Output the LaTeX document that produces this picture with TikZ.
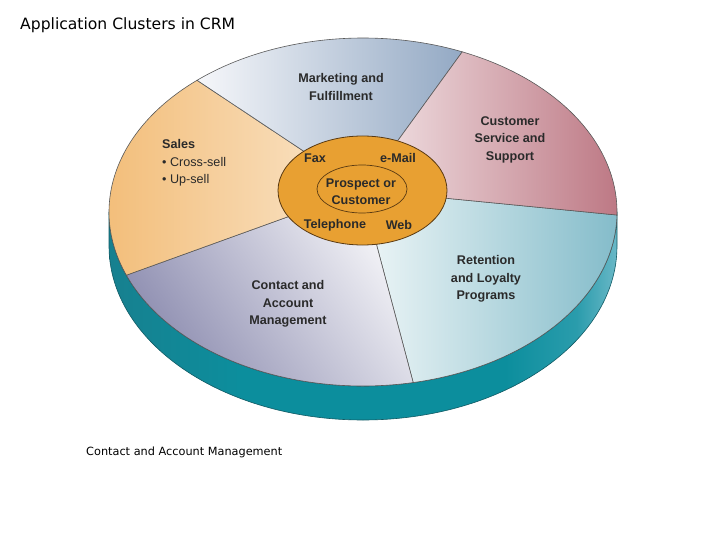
\documentclass[tikz,border=0pt]{standalone}
\usepackage{fontspec}
\setmainfont{Liberation Sans}
\newfontfamily\titlefont{DejaVu Sans}
\usetikzlibrary{shapes.geometric}
\definecolor{salesA}{HTML}{F2BB74}
\definecolor{salesB}{HTML}{FAE6CC}
\definecolor{mktA}{HTML}{F6F7FA}
\definecolor{mktB}{HTML}{93A9C4}
\definecolor{csA}{HTML}{F3E6E8}
\definecolor{csB}{HTML}{BD7884}
\definecolor{retA}{HTML}{EEF6F7}
\definecolor{retB}{HTML}{84BCCA}
\definecolor{conA}{HTML}{8A8AAE}
\definecolor{conB}{HTML}{F6F6F9}
\definecolor{hubC}{HTML}{E8A032}
\definecolor{hubL}{HTML}{5A3A12}
\definecolor{sideA}{HTML}{17808F}
\definecolor{sideM}{HTML}{0C8E9D}
\definecolor{sideC}{HTML}{2A9CAC}
\definecolor{sideB}{HTML}{6AB8C7}
\definecolor{txt}{HTML}{2A2A2A}
\pgfdeclarehorizontalshading{sideshade}{100bp}{color(0bp)=(sideA); color(25bp)=(sideA); color(38bp)=(sideM); color(64bp)=(sideM); color(71bp)=(sideC); color(75bp)=(sideB); color(100bp)=(sideB)}
\tikzset{
  seg/.style={draw=black!65, line width=0.6pt},
  sidepart/.style={draw=sideA!70!black, line width=0.6pt, shading=sideshade},
  lbl/.style={font=\fontsize{12.6}{17.5}\selectfont\bfseries, align=center, text=txt, inner sep=0pt},
  blt/.style={font=\fontsize{12.6}{17.5}\selectfont, align=left, text=txt, inner sep=0pt},
}
\begin{document}
\begin{tikzpicture}[x=1pt,y=-1pt]
\useasboundingbox (0,0) rectangle (720,540);
\fill[white] (0,0) rectangle (720,540);
\coordinate (e) at (363,212);
\coordinate (c) at (362,190);
% side of the disk
\shadedraw[sidepart] ([shift={(e)}]0:254 and 174) -- ++(0,34)
  arc[start angle=0,end angle=180,x radius=254,y radius=174]
  -- ([shift={(e)}]180:254 and 174)
  arc[start angle=180,end angle=0,x radius=254,y radius=174] -- cycle;
% wedges
\shadedraw[seg, left color=retA, right color=retB] (c) -- ([shift={(e)}]1:254 and 174)
  arc[start angle=1,end angle=78.6,x radius=254,y radius=174] -- cycle;
\shadedraw[seg, top color=conB, bottom color=conA, shading angle=-55] (c) -- ([shift={(e)}]78.6:254 and 174)
  arc[start angle=78.6,end angle=158.7,x radius=254,y radius=174] -- cycle;
\shadedraw[seg, left color=salesA, right color=salesB] (c) -- ([shift={(e)}]158.7:254 and 174)
  arc[start angle=158.7,end angle=229.2,x radius=254,y radius=174] -- cycle;
\shadedraw[seg, left color=mktA, right color=mktB] (c) -- ([shift={(e)}]229.2:254 and 174)
  arc[start angle=229.2,end angle=293,x radius=254,y radius=174] -- cycle;
\shadedraw[seg, left color=csA, right color=csB] (c) -- ([shift={(e)}]293:254 and 174)
  arc[start angle=293,end angle=361,x radius=254,y radius=174] -- cycle;
% hub
\node (hub) [ellipse, draw=hubL, line width=0.8pt, fill=hubC, minimum width=169pt, minimum height=109pt, inner sep=0pt] at (362.5,190.5) {};
\node (core) [ellipse, draw=hubL, line width=0.7pt, minimum width=90pt, minimum height=48pt, inner sep=0pt] at (362,189) {};
% hub texts
\node[lbl] (fax) at (315,158) {Fax};
\node[lbl] (mail) at (398,158) {e-Mail};
\node[lbl] (pc) at (361,191.5) {Prospect or\\Customer};
\node[lbl] (tel) at (335,225) {Telephone};
\node[lbl] (web) at (399,225) {Web};
% segment labels
\node[lbl] (mkt) at (341,87) {Marketing and\\Fulfillment};
\node[lbl] (cs) at (510,139.5) {Customer\\Service and\\Support};
\node[lbl] (ret) at (486,279) {Retention\\and Loyalty\\Programs};
\node[lbl] (con) at (288,304) {Contact and\\Account\\Management};
\node[blt, anchor=west] (sales) at (162,163) {\textbf{Sales}\\\textbullet\ Cross-sell\\\textbullet\ Up-sell};
% title and caption
\node[anchor=west, inner sep=0pt, font=\titlefont\fontsize{15.6}{18}\selectfont] (title) at (20,25) {Application Clusters in CRM};
\node[anchor=west, inner sep=0pt, font=\titlefont\fontsize{11.3}{14}\selectfont] (cap) at (86,452.5) {Contact and Account Management};
\end{tikzpicture}
\end{document}
